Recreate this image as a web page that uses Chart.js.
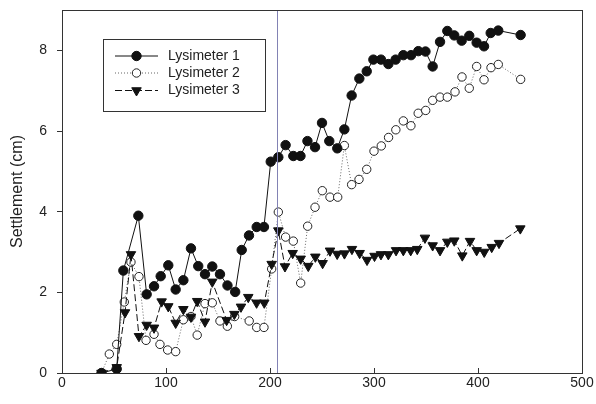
<!DOCTYPE html>
<html>
<head>
<meta charset="utf-8">
<script src="https://cdn.jsdelivr.net/npm/chart.js@4.4.1/dist/chart.umd.min.js"></script>
<style>
  body { margin: 0; background: #fff; }
  #wrap { width: 596px; height: 404px; position: relative; }
</style>
</head>
<body>
<div id="wrap"><canvas id="settlementChart"></canvas></div>
<script>
// settlement readings, x = days, y = cm

const lys1Days = [38, 52.6, 59, 73.4, 81.4, 88.5, 94.9, 102.2, 109.3, 116.7, 124, 131, 137.5, 144.5, 151.9, 159.1, 166.5, 172.8, 179.8, 187.2, 194.2, 200.7, 208, 215, 222.4, 229.3, 236, 243.3, 250, 257, 264.7, 271.5, 278.5, 285.9, 293, 299.4, 306.7, 313.8, 320.8, 328.2, 335.6, 342.6, 349.5, 356.4, 363.5, 370.5, 377.2, 384.3, 391.6, 398.7, 405.8, 412.2, 419.5, 441];
const lys1Values = [0, 0.1, 2.54, 3.9, 1.95, 2.15, 2.4, 2.67, 2.07, 2.3, 3.09, 2.65, 2.45, 2.64, 2.45, 2.17, 2.01, 3.05, 3.41, 3.62, 3.62, 5.24, 5.35, 5.65, 5.38, 5.38, 5.75, 5.6, 6.2, 5.75, 5.57, 6.04, 6.88, 7.3, 7.48, 7.77, 7.77, 7.66, 7.77, 7.88, 7.88, 7.98, 7.97, 7.6, 8.21, 8.48, 8.37, 8.24, 8.36, 8.19, 8.1, 8.43, 8.49, 8.38];

const lys2Days = [38, 45.5, 52.6, 59.9, 66.3, 74, 80.8, 88.5, 94.2, 101.6, 109.3, 116.7, 124, 130, 137.5, 144.5, 151.9, 159, 166, 180, 187.2, 194.2, 201.6, 208, 215, 222.4, 229.5, 236.2, 243.3, 250.3, 257.7, 265.1, 271.5, 278.5, 285.6, 293, 300, 307, 314, 321, 328.2, 335.5, 342.5, 349.7, 356.4, 363.5, 370.5, 377.9, 384.6, 391.6, 398.7, 405.8, 412.5, 419.5, 441];
const lys2Values = [0, 0.47, 0.71, 1.76, 2.75, 2.39, 0.81, 0.96, 0.71, 0.57, 0.53, 1.32, 1.4, 0.94, 1.72, 1.74, 1.29, 1.16, 1.4, 1.29, 1.13, 1.13, 2.58, 3.99, 3.37, 3.27, 2.23, 3.64, 4.11, 4.52, 4.36, 4.36, 5.64, 4.67, 4.8, 5.05, 5.5, 5.63, 5.84, 6.03, 6.25, 6.13, 6.44, 6.51, 6.76, 6.84, 6.84, 6.97, 7.34, 7.06, 7.6, 7.27, 7.57, 7.65, 7.28];

const lys3Days = [38, 52.6, 60.6, 66.3, 74, 81.4, 88.5, 95.8, 102.2, 109.3, 116.7, 124, 130, 137.5, 144.5, 158.3, 165.7, 172.1, 179.1, 187.1, 194.5, 201.6, 208, 214.4, 221.8, 229.5, 236.8, 243.6, 250.6, 257.7, 264.6, 271.6, 278.8, 286.2, 293.3, 300.5, 306.7, 313.8, 321.2, 328.2, 335.3, 341.6, 349, 356.4, 363.5, 370.5, 377.2, 384.9, 392.3, 398.7, 406, 413.2, 420.2, 440.7];
const lys3Values = [0, 0.14, 1.5, 2.94, 0.91, 1.19, 1.12, 1.77, 1.65, 1.24, 1.58, 1.39, 1.78, 1.27, 2.26, 1.31, 1.46, 1.64, 1.88, 1.74, 1.74, 2.7, 3.53, 2.64, 2.97, 2.83, 2.65, 2.88, 2.72, 3.03, 2.95, 2.96, 3.07, 2.97, 2.8, 2.9, 2.94, 2.94, 3.04, 3.04, 3.04, 3.07, 3.35, 3.16, 3.04, 3.25, 3.28, 2.91, 3.27, 3.04, 3.0, 3.12, 3.22, 3.58];

const seriesNames = ["Lysimeter 1", "Lysimeter 2", "Lysimeter 3"];
const xTickValues = [0, 100, 200, 300, 400, 500];
const yTickValues = [0, 2, 4, 6, 8];
const markerDay = 207;

function toPoints(days, values) {
    return days.map((d, i) => ({ x: d, y: values[i] }));
}

// vertical marker line, frame, inward x ticks and the boxed legend
const extrasPlugin = {
    id: "extras",
    afterDatasetsDraw(chart) {
        const ctx = chart.ctx;
        const area = chart.chartArea;
        const xs = chart.scales.x;

        ctx.save();
        const mx = Math.round(xs.getPixelForValue(markerDay)) + 0.5;
        ctx.strokeStyle = "#8282b4";
        ctx.lineWidth = 1;
        ctx.beginPath();
        ctx.moveTo(mx, area.top);
        ctx.lineTo(mx, area.bottom);
        ctx.stroke();
        ctx.restore();
    },
    afterDraw(chart) {
        const ctx = chart.ctx;
        const area = chart.chartArea;
        const xs = chart.scales.x;

        ctx.save();
        ctx.strokeStyle = "#333";
        ctx.lineWidth = 1;
        ctx.strokeRect(Math.round(area.left) + 0.5, Math.round(area.top) + 0.5,
            Math.round(area.right - area.left), Math.round(area.bottom - area.top));

        xTickValues.forEach(v => {
            const px = Math.round(xs.getPixelForValue(v)) + 0.5;
            ctx.beginPath();
            ctx.moveTo(px, area.bottom);
            ctx.lineTo(px, area.bottom - 5);
            ctx.stroke();
        });

        // legend
        const box = { left: 103, top: 39, right: 265, bottom: 111 };
        ctx.strokeRect(box.left + 0.5, box.top + 0.5, box.right - box.left, box.bottom - box.top);

        const rowY = [56, 73, 90.5];
        chart.data.datasets.forEach((ds, i) => {
            const y = rowY[i];
            ctx.save();
            ctx.strokeStyle = ds.borderColor;
            ctx.lineWidth = ds.borderWidth;
            ctx.setLineDash(ds.borderDash || []);
            ctx.beginPath();
            ctx.moveTo(115, y);
            ctx.lineTo(158, y);
            ctx.stroke();
            ctx.restore();

            ctx.save();
            ctx.fillStyle = ds.pointBackgroundColor;
            ctx.strokeStyle = ds.pointBorderColor;
            ctx.lineWidth = 1;
            Chart.helpers.drawPoint(ctx, {
                pointStyle: ds.pointStyle,
                rotation: ds.pointRotation || 0,
                radius: ds.pointRadius,
                borderWidth: 1
            }, 136.5, y);
            ctx.restore();

            ctx.fillStyle = "#222";
            ctx.font = "14px 'Liberation Sans', Arial, sans-serif";
            ctx.textBaseline = "middle";
            ctx.textAlign = "left";
            ctx.fillText(ds.label, 168, y);
        });
        ctx.restore();
    }
};

new Chart(document.getElementById("settlementChart"), {

    type: "scatter",

    data: {
        datasets: [
            {
                label: seriesNames[0],
                data: toPoints(lys1Days, lys1Values),
                showLine: true,
                borderColor: "#111",
                borderWidth: 1,
                pointStyle: "circle",
                pointRadius: 4.7,
                pointBackgroundColor: "#111",
                pointBorderColor: "#111",
                pointBorderWidth: 1,
                order: 1
            },
            {
                label: seriesNames[1],
                data: toPoints(lys2Days, lys2Values),
                showLine: true,
                borderColor: "#666",
                borderWidth: 1,
                borderDash: [1, 2],
                pointStyle: "circle",
                pointRadius: 4.2,
                pointBackgroundColor: "#fff",
                pointBorderColor: "#222",
                pointBorderWidth: 1,
                order: 3
            },
            {
                label: seriesNames[2],
                data: toPoints(lys3Days, lys3Values),
                showLine: true,
                borderColor: "#111",
                borderWidth: 1,
                borderDash: [7, 3],
                pointStyle: "triangle",
                pointRotation: 180,
                pointRadius: 5.5,
                pointBackgroundColor: "#111",
                pointBorderColor: "#111",
                pointBorderWidth: 1,
                order: 2
            }
        ]
    },

    options: {
        responsive: true,
        maintainAspectRatio: false,
        animation: false,
        layout: {
            padding: { top: 10, right: 14, left: 0, bottom: 0 }
        },
        plugins: {
            legend: { display: false },
            tooltip: { enabled: false }
        },
        scales: {
            x: {
                type: "linear",
                min: 0,
                max: 500,
                afterFit: s => {
                    s.height = 31;
                    s.paddingLeft = 0;
                    s.paddingRight = 0;
                },
                afterBuildTicks: s => { s.ticks = xTickValues.map(v => ({ value: v })); },
                grid: { display: true, drawOnChartArea: false, drawTicks: false },
                border: { color: "#333" },
                ticks: {
                    padding: 2,
                    color: "#222",
                    font: { family: "'Liberation Sans', Arial, sans-serif", size: 14 }
                }
            },
            y: {
                min: 0,
                max: 9,
                afterFit: s => {
                    s.width = 62;
                    s.paddingTop = 0;
                    s.paddingBottom = 0;
                },
                afterBuildTicks: s => { s.ticks = yTickValues.map(v => ({ value: v })); },
                grid: { display: true, drawOnChartArea: false, tickLength: 5, color: "#333" },
                border: { color: "#333" },
                ticks: {
                    padding: 10,
                    color: "#222",
                    font: { family: "'Liberation Sans', Arial, sans-serif", size: 14 }
                },
                title: {
                    display: true,
                    text: "Settlement (cm)",
                    color: "#222",
                    padding: { top: 8, bottom: 0 },
                    font: { family: "'Liberation Sans', Arial, sans-serif", size: 16 }
                }
            }
        }
    },

    plugins: [extrasPlugin]

});
</script>
</body>
</html>
